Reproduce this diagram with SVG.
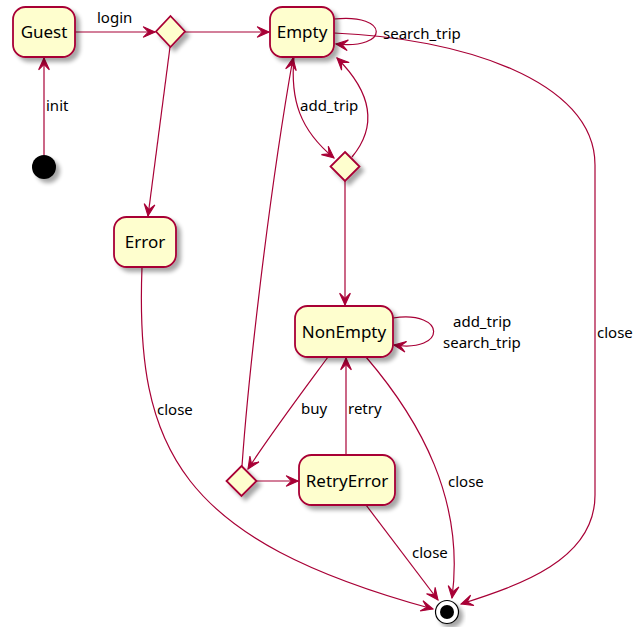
<svg xmlns="http://www.w3.org/2000/svg" width="639" height="627" viewBox="0 0 639 627">
<defs>
<filter id="sh" x="-20%" y="-20%" width="150%" height="150%">
<feGaussianBlur in="SourceAlpha" stdDeviation="2"/>
<feOffset dx="4" dy="4" result="b"/>
<feComponentTransfer><feFuncA type="linear" slope="0.35"/></feComponentTransfer>
<feMerge><feMergeNode/><feMergeNode in="SourceGraphic"/></feMerge>
</filter>
<marker id="ah" markerUnits="userSpaceOnUse" markerWidth="14" markerHeight="14" viewBox="-12 -6 13 12" refX="0" refY="0" orient="auto">
<path d="M0,0 L-11,-5 L-6,0 L-11,5 Z" fill="#A80036" stroke="#A80036" stroke-width="1"/>
</marker>
</defs>
<style>
.st{fill:#FEFECE;stroke:#A80036;stroke-width:1.8;filter:url(#sh)}
.dm{fill:#FEFECE;stroke:#A80036;stroke-width:1.8;filter:url(#sh)}
.nt{font-family:"Noto Sans","Open Sans","DejaVu Sans",sans-serif;font-size:17px;fill:#000;text-anchor:middle}
.lb{font-family:"Noto Sans","Open Sans","DejaVu Sans",sans-serif;font-size:15px;fill:#000}
.e{fill:none;stroke:#A80036;stroke-width:1.2;marker-end:url(#ah)}
.en{fill:none;stroke:#A80036;stroke-width:1.2}
</style>
<rect width="639" height="627" fill="#fff"/>

<g id="connectors">
<path class="e" d="M44,155 L44,58"/>
<path class="e" d="M75,32 L155,32"/>
<path class="e" d="M185,32 L269,32"/>
<path class="e" d="M170,47 L148,216"/>
<path class="e" d="M334,19 C390,13 390,50 336,44"/>
<path class="e" d="M334,33 C460,38 595,80 595,165 L595,495 C595,560 520,585 461,604"/>
<path class="e" d="M294,57 C290,100 300,130 334,158"/>
<path class="e" d="M352,157 C376,128 374,95 337,58"/>
<path class="e" d="M345,181 L345,305"/>
<path class="e" d="M393,318 C447,310 447,353 394,345"/>
<path class="e" d="M328,357 C300,395 270,435 248,469"/>
<path class="e" d="M242,466 C248,380 268,200 293,58"/>
<path class="e" d="M257,481 L298,481"/>
<path class="e" d="M346,455 L346,358"/>
<path class="e" d="M366,357 C420,420 465,500 452,598"/>
<path class="e" d="M366,505 L438,600"/>
<path class="e" d="M142,267 C135,450 180,540 433,609"/>
<text class="lb" x="97" y="23">login</text>
<text class="lb" x="46" y="111">init</text>
<text class="lb" x="383" y="39">search_trip</text>
<text class="lb" x="300" y="111">add_trip</text>
<text class="lb" x="453" y="327">add_trip</text>
<text class="lb" x="443" y="348">search_trip</text>
<text class="lb" x="301" y="414">buy</text>
<text class="lb" x="348" y="414">retry</text>
<text class="lb" x="157" y="415">close</text>
<text class="lb" x="448" y="487">close</text>
<text class="lb" x="412" y="558">close</text>
<text class="lb" x="597" y="338">close</text>
</g>

<g id="start"><circle cx="44" cy="167" r="12" fill="#000" filter="url(#sh)"/></g>
<g id="Guest"><rect class="st" x="13" y="7" width="62" height="50" rx="12.5"/><text class="nt" x="44" y="38">Guest</text></g>
<g id="choice1"><polygon class="dm" points="170.5,16 185,31.5 170.5,47 156,31.5"/></g>
<g id="Empty"><rect class="st" x="270" y="7" width="64" height="50" rx="12.5"/><text class="nt" x="302" y="38">Empty</text></g>
<g id="choice2"><polygon class="dm" points="345,152 359.5,166.5 345,181 330.5,166.5"/></g>
<g id="Error"><rect class="st" x="114" y="217" width="62" height="50" rx="12.5"/><text class="nt" x="145" y="248">Error</text></g>
<g id="NonEmpty"><rect class="st" x="295" y="306" width="98" height="51" rx="12.5"/><text class="nt" x="344" y="338">NonEmpty</text></g>
<g id="choice3"><polygon class="dm" points="241.5,466 256.5,481 241.5,496 226.5,481"/></g>
<g id="RetryError"><rect class="st" x="299" y="455" width="96" height="50" rx="12.5"/><text class="nt" x="347" y="487">RetryError</text></g>
<g id="end"><circle cx="447" cy="612" r="11.5" fill="#fff" stroke="#000" stroke-width="1.2" filter="url(#sh)"/><circle cx="447" cy="612" r="7" fill="#000"/></g>
</svg>
